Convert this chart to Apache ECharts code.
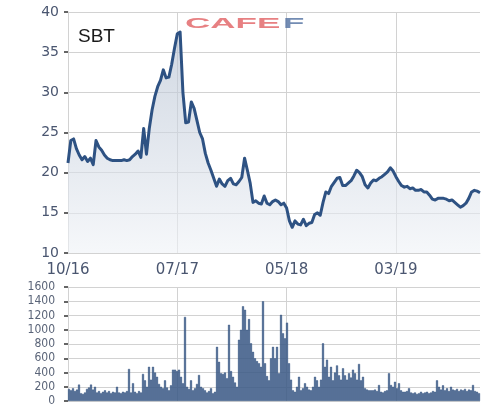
<!DOCTYPE html>
<html><head><meta charset="utf-8">
<script src="https://cdn.jsdelivr.net/npm/echarts@6/dist/echarts.min.js"></script>
<style>html,body{margin:0;padding:0;background:#fff}#c{width:490px;height:415px}</style>
</head><body><div id="c"></div>
<script>
const ticker = 'SBT';
const tickLabels = ['10/16', '07/17', '05/18', '03/19'];
const tickIndex = [0, 39, 78, 117];
const priceTicks = [10, 40, 5];      // min, max, interval
const volumeTicks = [0, 1600, 200];  // min, max, interval

const price = [
  21.2, 24.0, 24.2, 23.0, 22.2, 21.6, 22.0, 21.4, 21.8, 21.0,
  24.0, 23.2, 22.8, 22.2, 21.8, 21.6, 21.5, 21.5, 21.5, 21.5,
  21.6, 21.5, 21.6, 22.0, 22.3, 22.7, 21.9, 25.5, 22.3, 25.5,
  27.8, 29.5, 30.7, 31.5, 32.8, 31.8, 31.9, 33.5, 35.5, 37.3,
  37.5, 30.0, 26.2, 26.3, 28.8, 28.0, 26.5, 25.0, 24.2, 22.4,
  21.2, 20.3, 19.3, 18.3, 19.2, 18.6, 18.3, 19.0, 19.3, 18.6,
  18.5, 18.9, 19.4, 21.8, 20.3, 18.7, 16.3, 16.5, 16.2, 16.1,
  17.1, 16.2, 16.0, 16.4, 16.6, 16.4, 16.0, 16.2, 15.6, 14.0,
  13.2, 14.0, 13.6, 13.5, 14.2, 13.4, 13.7, 13.8, 14.8, 15.0,
  14.7, 16.3, 17.6, 17.4, 18.3, 18.8, 19.3, 19.4, 18.4, 18.4,
  18.7, 19.0, 19.6, 20.3, 20.0, 19.5, 18.5, 18.1, 18.7, 19.1,
  19.0, 19.3, 19.5, 19.8, 20.1, 20.6, 20.2, 19.5, 18.9, 18.4,
  18.2, 18.3, 18.0, 18.1, 17.8, 17.8, 17.9, 17.6, 17.6, 17.2,
  16.7, 16.6, 16.8, 16.8, 16.8, 16.7, 16.5, 16.6, 16.3, 16.0,
  15.7, 15.9, 16.2, 16.8, 17.6, 17.8, 17.7, 17.5
];

const volume = [
  170, 150, 180, 140, 160, 230, 110, 100, 120, 170,
  190, 230, 160, 200, 120, 140, 110, 130, 150, 120,
  140, 110, 130, 120, 200, 120, 110, 130, 120, 140,
  450, 120, 250, 130, 110, 140, 120, 380, 290, 200,
  480, 300, 480, 400, 340, 240, 200, 180, 290, 190,
  150, 220, 440, 440, 420, 440, 340, 250, 1180, 200,
  170, 290, 150, 180, 240, 365, 200, 180, 150, 120,
  140, 180, 110, 130, 760, 550, 390, 380, 400, 320,
  1070, 420, 340, 260, 200, 860, 1000, 1330, 1280, 1000,
  1150, 810, 690, 600, 560, 530, 480, 1400, 530, 350,
  290, 600, 760, 600, 760, 390, 1210, 950, 880, 1100,
  530, 300, 150, 130, 200, 340, 150, 180, 250, 200,
  160, 150, 200, 340, 290, 200, 300, 810, 480, 580,
  340, 480, 290, 400, 500, 360, 300, 460, 360, 300,
  390, 330, 440, 390, 300, 520, 290, 340, 180, 160,
  150, 150, 150, 160, 140, 225, 130, 120, 140, 150,
  390, 225, 200, 270, 180, 250, 150, 130, 130, 140,
  180, 120, 110, 120, 100, 110, 130, 110, 120, 130,
  110, 120, 140, 130, 290, 200, 160, 220, 150, 180,
  140, 200, 160, 150, 170, 140, 160, 150, 170, 140,
  160, 150, 225, 140, 130, 110
];

const priceCats = price.map((_, i) => String(i));
const volumeCats = volume.map((_, i) => String(i));
const isTick = (i) => tickIndex.indexOf(i) >= 0;

const labelColor = '#4a5670';
const gridColor = '#d2d2d2';
const lineColor = '#2e5283';
const barColor = '#3d5b87';

const chart = echarts.init(document.getElementById('c'), null, { renderer: 'canvas' });
chart.setOption({
  animation: false,
  backgroundColor: '#ffffff',
  grid: [
    { left: 68, top: 12, width: 412, height: 241, outerBoundsMode: 'none', containLabel: false },
    { left: 68, top: 287, width: 412, height: 114, outerBoundsMode: 'none', containLabel: false }
  ],
  xAxis: [
    {
      type: 'category', gridIndex: 0, data: priceCats, boundaryGap: false,
      axisLine: { show: true, lineStyle: { color: gridColor, width: 1 } },
      axisTick: { show: false },
      axisLabel: {
        interval: (i) => isTick(i),
        formatter: (v) => tickLabels[tickIndex.indexOf(Number(v))] || '',
        color: labelColor, fontSize: 15, fontFamily: 'DejaVu Sans', margin: 10
      },
      splitLine: { show: true, interval: (i) => isTick(i), lineStyle: { color: gridColor, width: 1 } }
    },
    {
      type: 'category', gridIndex: 1, data: volumeCats, boundaryGap: true,
      axisLine: { show: false }, axisTick: { show: false }, axisLabel: { show: false },
      splitLine: { show: false }
    },
    {
      type: 'category', gridIndex: 1, data: priceCats, boundaryGap: false, position: 'bottom',
      axisLine: { show: false }, axisTick: { show: false }, axisLabel: { show: false },
      splitLine: { show: true, interval: (i) => isTick(i), lineStyle: { color: gridColor, width: 1 } }
    }
  ],
  yAxis: [
    {
      type: 'value', gridIndex: 0, min: priceTicks[0], max: priceTicks[1], interval: priceTicks[2],
      axisLine: { show: true, lineStyle: { color: gridColor, width: 1 } },
      axisTick: { show: true, length: 4, lineStyle: { color: '#333', width: 1.5 } },
      axisLabel: { color: labelColor, fontSize: 14, fontFamily: 'DejaVu Sans', margin: 9,
        formatter: (v) => String(v) },
      splitLine: { show: true, lineStyle: { color: gridColor, width: 1 } }
    },
    {
      type: 'value', gridIndex: 1, min: volumeTicks[0], max: volumeTicks[1], interval: volumeTicks[2],
      axisLine: { show: true, lineStyle: { color: gridColor, width: 1 } },
      axisTick: { show: true, length: 4, lineStyle: { color: '#333', width: 1.5 } },
      axisLabel: { color: '#5a6478', fontSize: 12, fontFamily: 'Liberation Sans Narrow, DejaVu Sans Condensed, Liberation Sans', margin: 13,
        formatter: (v) => String(v) },
      splitLine: { show: true, lineStyle: { color: gridColor, width: 1 } }
    }
  ],
  series: [
    {
      type: 'line', xAxisIndex: 0, yAxisIndex: 0, data: price,
      symbol: 'none', smooth: false,
      lineStyle: { color: lineColor, width: 3, join: 'round' },
      areaStyle: {
        origin: 'start',
        color: new echarts.graphic.LinearGradient(0, 0, 0, 1, [
          { offset: 0, color: 'rgba(178,190,208,0.85)' },
          { offset: 1, color: 'rgba(240,243,247,0.9)' }
        ])
      }
    },
    {
      type: 'bar', xAxisIndex: 1, yAxisIndex: 1, data: volume,
      barCategoryGap: '0%',
      itemStyle: { color: barColor, borderColor: barColor, borderWidth: 0.5 }
    }
  ],
  graphic: [
    { type: 'text', x: 78, y: 27, z: 100, style: { text: ticker, font: '19px Liberation Sans', fill: '#1a1a1a' } },
    { type: 'text', x: 185, y: 17, z: 100, scaleX: 2.5, style: { text: 'CAFE', font: 'bold 14px Liberation Sans', fill: '#e36a6c', opacity: 0.85 } },
    { type: 'text', x: 283, y: 17, z: 100, scaleX: 2.5, style: { text: 'F', font: 'bold 14px Liberation Sans', fill: '#5a78a6', opacity: 0.85 } }
  ]
});
</script>
</body></html>
